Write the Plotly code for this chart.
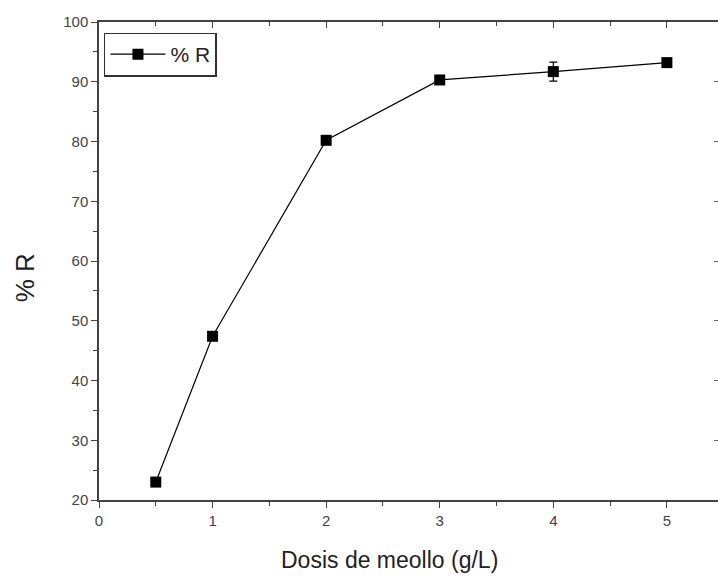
import plotly.graph_objects as go

dosis = [0.5, 1, 2, 3, 4, 5]
remocion = [23.0, 47.4, 80.2, 90.3, 91.7, 93.2]
error = [0.3, 0.5, 0.4, 0.5, 1.6, 0.4]

fig = go.Figure()
fig.add_trace(go.Scatter(
    x=dosis, y=remocion, mode="lines+markers", name="% R",
    line=dict(color="black", width=1.2),
    marker=dict(symbol="square", size=11, color="black"),
    error_y=dict(type="data", array=error, visible=True, color="black", thickness=1.2, width=4),
))
# invisible trace for mirrored axes
fig.add_trace(go.Scatter(x=dosis, y=remocion, xaxis="x2", yaxis="y2", mode="markers",
                         marker=dict(opacity=0), showlegend=False, hoverinfo="skip"))

font = "Liberation Sans, Arial, sans-serif"
fig.update_layout(
    width=718, height=576, autosize=False,
    margin=dict(l=99, r=0, t=22, b=76),
    paper_bgcolor="white", plot_bgcolor="white",
    font=dict(family=font, color="#333"),
    showlegend=True,
    legend=dict(x=0.008, y=0.978, xanchor="left", yanchor="top",
                bordercolor="#333", borderwidth=1.5, bgcolor="white", itemwidth=55,
                font=dict(size=21, color="#222")),
    xaxis=dict(range=[0, 5.45], tickvals=[0, 1, 2, 3, 4, 5], ticks="outside", ticklen=6,
               tickcolor="#444", showline=True, linecolor="#444", linewidth=1.5,
               showgrid=False, zeroline=False, tickfont=dict(size=15, color="#444"),
               automargin=False,
               minor=dict(dtick=0.5, ticks="outside", ticklen=4, tickcolor="#444")),
    yaxis=dict(range=[20, 100], dtick=10, ticks="outside", ticklen=6, tickcolor="#444",
               showline=True, linecolor="#444", linewidth=1.5, showgrid=False, zeroline=False,
               tickfont=dict(size=15, color="#444"), automargin=False,
               minor=dict(dtick=5, ticks="outside", ticklen=4, tickcolor="#444")),
    xaxis2=dict(range=[0, 5.45], overlaying="x", side="top", tickvals=[0, 1, 2, 3, 4, 5],
                ticks="inside", ticklen=6, tickcolor="#444", showline=True, linecolor="#444",
                linewidth=1.5, showticklabels=False, showgrid=False, zeroline=False,
                automargin=False,
                minor=dict(dtick=0.5, ticks="inside", ticklen=4, tickcolor="#444")),
    yaxis2=dict(range=[20, 100], overlaying="y", side="right", dtick=10, ticks="inside",
                ticklen=4, tickcolor="#666", showline=False, showticklabels=False,
                showgrid=False, zeroline=False, automargin=False),
    annotations=[
        dict(text="Dosis de meollo (g/L)", xref="paper", yref="paper", x=0.47, y=-0.125,
             xanchor="center", yanchor="middle", showarrow=False,
             font=dict(size=23, color="#222")),
        dict(text="% R", xref="paper", yref="paper", x=-0.1195, y=0.464, textangle=-90,
             xanchor="center", yanchor="middle", showarrow=False,
             font=dict(size=26, color="#222")),
    ],
)
fig.write_html("out.html", config={"responsive": False, "displayModeBar": False})
with open("out.html", encoding="utf-8") as f:
    html = f.read()
html = html.replace("<body>", '<body style="margin:0;overflow:hidden">', 1)
with open("out.html", "w", encoding="utf-8") as f:
    f.write(html)
